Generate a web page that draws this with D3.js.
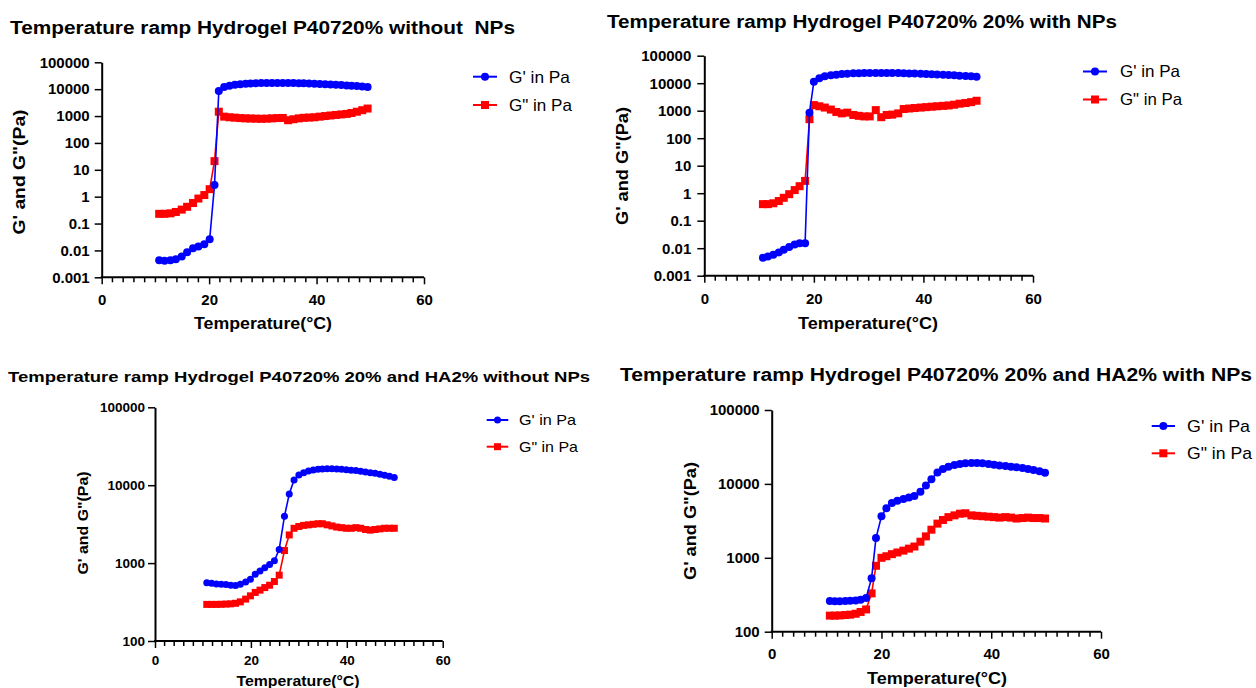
<!DOCTYPE html>
<html><head><meta charset="utf-8">
<script src="https://cdn.jsdelivr.net/npm/d3@7"></script>
<style>
body{margin:0;background:#fff;}
svg{display:block;}
text{font-family:"Liberation Sans",Arial,sans-serif;}
.title{white-space:pre;}
</style>
</head><body>
<svg id="chart" width="1256" height="688"></svg>
<script>
// ---------- DATA ----------
const seriesNames = ["G' in Pa", 'G" in Pa'];
const titles = [
  "Temperature ramp Hydrogel P40720% without  NPs",
  "Temperature ramp Hydrogel P40720% 20% with NPs",
  "Temperature ramp Hydrogel P40720% 20% and HA2% without NPs",
  "Temperature ramp Hydrogel P40720% 20% and HA2% with NPs"
];
const xAxisTitle = "Temperature(°C)";
const yAxisTitle = "G' and G\"(Pa)";
const xMajorTicks = [0, 20, 40, 60];
const xMinorTicks = [2,4,6,8,10,12,14,16,18,22,24,26,28,30,32,34,36,38,42,44,46,48,50,52,54,56,58];
const yTicksWide = [0.001, 0.01, 0.1, 1, 10, 100, 1000, 10000, 100000];
const yTickLabelsWide = ["0.001", "0.01", "0.1", "1", "10", "100", "1000", "10000", "100000"];
const yTicksNarrow = [100, 1000, 10000, 100000];
const yTickLabelsNarrow = ["100", "1000", "10000", "100000"];

const tempP1 = [10.7, 11.7, 12.8, 13.8, 14.9, 15.9, 17.0, 18.0, 19.1, 20.1, 21.0, 21.8, 22.8, 23.8, 24.8, 25.8, 26.8, 27.7, 28.7, 29.7, 30.7, 31.7, 32.7, 33.7, 34.7, 35.7, 36.7, 37.6, 38.6, 39.6, 40.6, 41.6, 42.6, 43.6, 44.6, 45.6, 46.5, 47.5, 48.5, 49.5];
const gP1 = [0.0043, 0.0041, 0.0043, 0.0047, 0.0060, 0.0085, 0.012, 0.014, 0.017, 0.026, 2.7, 8500, 12000, 13500, 14500, 15200, 15800, 16200, 16500, 16800, 17000, 17000, 17000, 17000, 16900, 16800, 16700, 16500, 16300, 16000, 15700, 15400, 15000, 14600, 14200, 13800, 13400, 13000, 12500, 12000];
const ggP1 = [0.23, 0.23, 0.24, 0.27, 0.33, 0.42, 0.58, 0.85, 1.15, 1.9, 21, 1450, 950, 900, 870, 840, 820, 810, 800, 790, 800, 820, 840, 850, 700, 760, 820, 860, 880, 900, 950, 1000, 1050, 1100, 1150, 1200, 1300, 1450, 1650, 1900];

const tempP2 = [10.7, 11.6, 12.6, 13.6, 14.5, 15.5, 16.5, 17.4, 18.4, 19.2, 20.0, 21.0, 22.0, 23.1, 24.1, 25.1, 26.1, 27.2, 28.2, 29.2, 30.2, 31.3, 32.3, 33.3, 34.3, 35.4, 36.4, 37.4, 38.4, 39.5, 40.5, 41.5, 42.5, 43.6, 44.6, 45.6, 46.6, 47.7, 48.7, 49.7];
const gP2 = [0.0045, 0.0050, 0.0058, 0.0070, 0.0087, 0.011, 0.0135, 0.0150, 0.0150, 850, 11300, 15000, 18000, 19500, 20500, 21500, 22200, 22800, 23200, 23500, 23600, 23700, 23700, 23600, 23500, 23300, 23000, 22700, 22400, 22000, 21600, 21200, 20800, 20300, 19800, 19300, 18800, 18300, 17800, 17200];
const ggP2 = [0.40, 0.40, 0.43, 0.52, 0.68, 0.92, 1.3, 1.8, 2.8, 490, 1600, 1450, 1300, 1100, 900, 800, 850, 700, 650, 620, 620, 1050, 580, 700, 720, 800, 1150, 1200, 1250, 1300, 1350, 1400, 1450, 1500, 1550, 1650, 1800, 1900, 2050, 2300];

const tempP3 = [10.8, 11.8, 12.8, 13.8, 14.8, 15.8, 16.8, 17.8, 18.9, 19.9, 20.9, 21.9, 22.9, 23.9, 24.9, 25.9, 27.0, 28.0, 29.0, 30.0, 31.0, 32.0, 33.0, 34.0, 34.9, 35.9, 36.9, 37.9, 38.9, 39.9, 40.9, 41.9, 42.9, 43.9, 44.9, 45.9, 46.9, 47.9, 48.9, 49.9];
const gP3 = [560, 550, 540, 535, 530, 520, 515, 535, 570, 620, 720, 790, 870, 960, 1070, 1500, 4000, 7700, 11700, 13500, 14500, 15200, 15700, 16000, 16200, 16300, 16300, 16200, 16000, 15800, 15600, 15400, 15100, 14800, 14500, 14200, 13800, 13400, 13000, 12600];
const ggP3 = [295, 295, 295, 296, 298, 300, 305, 318, 345, 380, 420, 450, 485, 520, 580, 700, 1450, 2300, 2800, 2950, 3050, 3100, 3150, 3200, 3200, 3100, 3000, 2900, 2850, 2800, 2800, 2850, 2800, 2700, 2650, 2700, 2750, 2800, 2800, 2800];

const tempP4 = [10.6, 11.5, 12.4, 13.4, 14.3, 15.3, 16.2, 17.2, 18.2, 19.0, 20.0, 20.9, 21.9, 22.9, 24.0, 25.0, 26.0, 27.1, 28.1, 29.1, 30.2, 31.2, 32.2, 33.3, 34.3, 35.3, 36.4, 37.4, 38.4, 39.5, 40.5, 41.5, 42.6, 43.6, 44.6, 45.7, 46.7, 47.7, 48.8, 49.8];
const gP4 = [260, 258, 258, 260, 262, 265, 270, 285, 530, 1850, 3650, 4700, 5500, 5900, 6250, 6550, 6850, 7850, 9500, 11600, 14300, 15900, 17100, 18000, 18600, 19000, 19200, 19200, 19000, 18600, 18200, 17800, 17400, 17100, 16800, 16400, 15900, 15400, 14800, 14100];
const ggP4 = [165, 165, 166, 168, 170, 175, 185, 200, 330, 780, 1000, 1050, 1120, 1180, 1250, 1330, 1420, 1650, 1950, 2400, 2900, 3250, 3550, 3750, 3950, 4000, 3750, 3700, 3650, 3600, 3550, 3500, 3550, 3500, 3400, 3450, 3500, 3450, 3450, 3400];

// ---------- LAYOUT ----------
const BLUE = "#0000ff", RED = "#ff0000";
const panels = [
  {title: titles[0], temps: tempP1, g1: gP1, g2: ggP1, ticks: yTicksWide, tickLabels: yTickLabelsWide,
   x0: 101.7, x1: 424, yTop: 62.3, yBot: 277.3, tickFont: 15, xPad: 10, yPad: 5,
   tt: {x: 10, y: 34, size: 18, len: 505},
   yl: {x: 19, y: 172, size: 16, len: 125}, xl: {x: 263, y: 329, size: 16, len: 138},
   lg: {x1: 473, x2: 497, y1: 76.7, y2: 105, tx: 509, size: 16.5, len: 61}, ms: 8},
  {title: titles[1], temps: tempP2, g1: gP2, g2: ggP2, ticks: yTicksWide, tickLabels: yTickLabelsWide,
   x0: 704.3, x1: 1033, yTop: 55.7, yBot: 275.7, tickFont: 15, xPad: 10.6, yPad: 6,
   tt: {x: 607, y: 28, size: 18, len: 510},
   yl: {x: 622, y: 166, size: 16, len: 118}, xl: {x: 868, y: 329, size: 16, len: 140},
   lg: {x1: 1083, x2: 1107, y1: 71.5, y2: 99.5, tx: 1120, size: 16.5, len: 60}, ms: 8},
  {title: titles[2], temps: tempP3, g1: gP3, g2: ggP3, ticks: yTicksNarrow, tickLabels: yTickLabelsNarrow,
   x0: 155, x1: 442.7, yTop: 407.3, yBot: 641, tickFont: 13.5, xPad: 7, yPad: 3,
   tt: {x: 8, y: 382, size: 15.5, len: 582},
   yl: {x: 83, y: 523, size: 14, len: 103}, xl: {x: 298, y: 686, size: 14, len: 123},
   lg: {x1: 486.7, x2: 508.3, y1: 420, y2: 446.7, tx: 519, size: 15, len: 57}, ms: 7},
  {title: titles[3], temps: tempP4, g1: gP4, g2: ggP4, ticks: yTicksNarrow, tickLabels: yTickLabelsNarrow,
   x0: 771.7, x1: 1101, yTop: 410, yBot: 631.7, tickFont: 15, xPad: 9.6, yPad: 5,
   tt: {x: 620, y: 381, size: 17.5, len: 632},
   yl: {x: 690, y: 521, size: 16, len: 118}, xl: {x: 937, y: 684, size: 16, len: 140},
   lg: {x1: 1151.7, x2: 1175, y1: 426, y2: 453.3, tx: 1187, size: 17, len: 63}, ms: 8}
];

const svg = d3.select("#chart");

function square(sel, cx, cy, s, color) {
  sel.append("rect").attr("x", cx - s/2).attr("y", cy - s/2).attr("width", s).attr("height", s).attr("fill", color);
}

function drawPanel(p) {
  const g = svg.append("g");
  const x = d3.scaleLinear().domain([0, 60]).range([p.x0, p.x1]);
  const y = d3.scaleLog().domain([p.ticks[0], p.ticks[p.ticks.length - 1]]).range([p.yBot, p.yTop]);

  // title
  g.append("text").attr("class", "title").attr("xml:space", "preserve")
    .attr("x", p.tt.x).attr("y", p.tt.y).attr("font-size", p.tt.size).attr("font-weight", "bold")
    .attr("textLength", p.tt.len).attr("lengthAdjust", "spacingAndGlyphs").attr("fill", "#000").text(p.title);

  // x axis
  const xa = g.append("g").attr("transform", `translate(0,${p.yBot})`)
    .call(d3.axisBottom(x).tickValues(xMajorTicks).tickFormat(d3.format("d")).tickSize(7).tickSizeOuter(0).tickPadding(p.xPad));
  g.append("g").selectAll("line").data(xMinorTicks).join("line")
    .attr("x1", d => x(d)).attr("x2", d => x(d)).attr("y1", p.yBot).attr("y2", p.yBot + 5)
    .attr("stroke", "#000").attr("stroke-width", 1.5);

  // y axis
  const ya = g.append("g").attr("transform", `translate(${p.x0},0)`)
    .call(d3.axisLeft(y).tickValues(p.ticks).tickFormat((d, i) => p.tickLabels[i]).tickSize(7).tickSizeOuter(0).tickPadding(p.yPad));

  [xa, ya].forEach(a => {
    a.select(".domain").attr("stroke", "#000").attr("stroke-width", 2);
    a.selectAll(".tick line").attr("stroke", "#000").attr("stroke-width", 1.5);
    a.selectAll(".tick text").attr("font-size", p.tickFont).attr("font-weight", "bold").attr("fill", "#000")
      .attr("font-family", '"Liberation Sans", Arial, sans-serif');
  });
  xa.select(".domain").attr("d", `M${p.x0 - 1},0H${p.x1}`);

  // axis titles
  g.append("text").attr("x", p.xl.x).attr("y", p.xl.y).attr("text-anchor", "middle").attr("font-size", p.xl.size)
    .attr("font-weight", "bold").attr("textLength", p.xl.len).attr("lengthAdjust", "spacingAndGlyphs").text(xAxisTitle);
  g.append("text").attr("transform", `translate(${p.yl.x},${p.yl.y}) rotate(-90)`).attr("text-anchor", "middle")
    .attr("dy", "0.36em").attr("font-size", p.yl.size).attr("font-weight", "bold")
    .attr("textLength", p.yl.len).attr("lengthAdjust", "spacingAndGlyphs").text(yAxisTitle);

  const d1 = p.temps.map((t, i) => ({t, v: p.g1[i]}));
  const d2 = p.temps.map((t, i) => ({t, v: p.g2[i]}));
  const line = d3.line().x(d => x(d.t)).y(d => y(d.v));

  // G'' (red squares)
  g.append("path").datum(d2).attr("d", line).attr("fill", "none").attr("stroke", RED).attr("stroke-width", 1.6);
  g.append("g").selectAll("rect").data(d2).join("rect")
    .attr("x", d => x(d.t) - p.ms/2).attr("y", d => y(d.v) - p.ms/2)
    .attr("width", p.ms).attr("height", p.ms).attr("fill", RED);

  // G' (blue circles)
  g.append("path").datum(d1).attr("d", line).attr("fill", "none").attr("stroke", BLUE).attr("stroke-width", 1.6);
  g.append("g").selectAll("circle").data(d1).join("circle")
    .attr("cx", d => x(d.t)).attr("cy", d => y(d.v)).attr("r", p.ms/2).attr("fill", BLUE);

  // legend
  const L = p.lg, mx = (L.x1 + L.x2) / 2;
  g.append("line").attr("x1", L.x1).attr("x2", L.x2).attr("y1", L.y1).attr("y2", L.y1).attr("stroke", BLUE).attr("stroke-width", 2);
  g.append("circle").attr("cx", mx).attr("cy", L.y1).attr("r", p.ms/2).attr("fill", BLUE);
  g.append("line").attr("x1", L.x1).attr("x2", L.x2).attr("y1", L.y2).attr("y2", L.y2).attr("stroke", RED).attr("stroke-width", 2);
  square(g, mx, L.y2, p.ms, RED);
  g.append("text").attr("x", L.tx).attr("y", L.y1).attr("dy", "0.36em").attr("font-size", L.size)
    .attr("textLength", L.len).attr("lengthAdjust", "spacingAndGlyphs").text(seriesNames[0]);
  g.append("text").attr("x", L.tx).attr("y", L.y2).attr("dy", "0.36em").attr("font-size", L.size)
    .attr("textLength", L.len + 2).attr("lengthAdjust", "spacingAndGlyphs").text(seriesNames[1]);
}

panels.forEach(drawPanel);
</script>
</body></html>
